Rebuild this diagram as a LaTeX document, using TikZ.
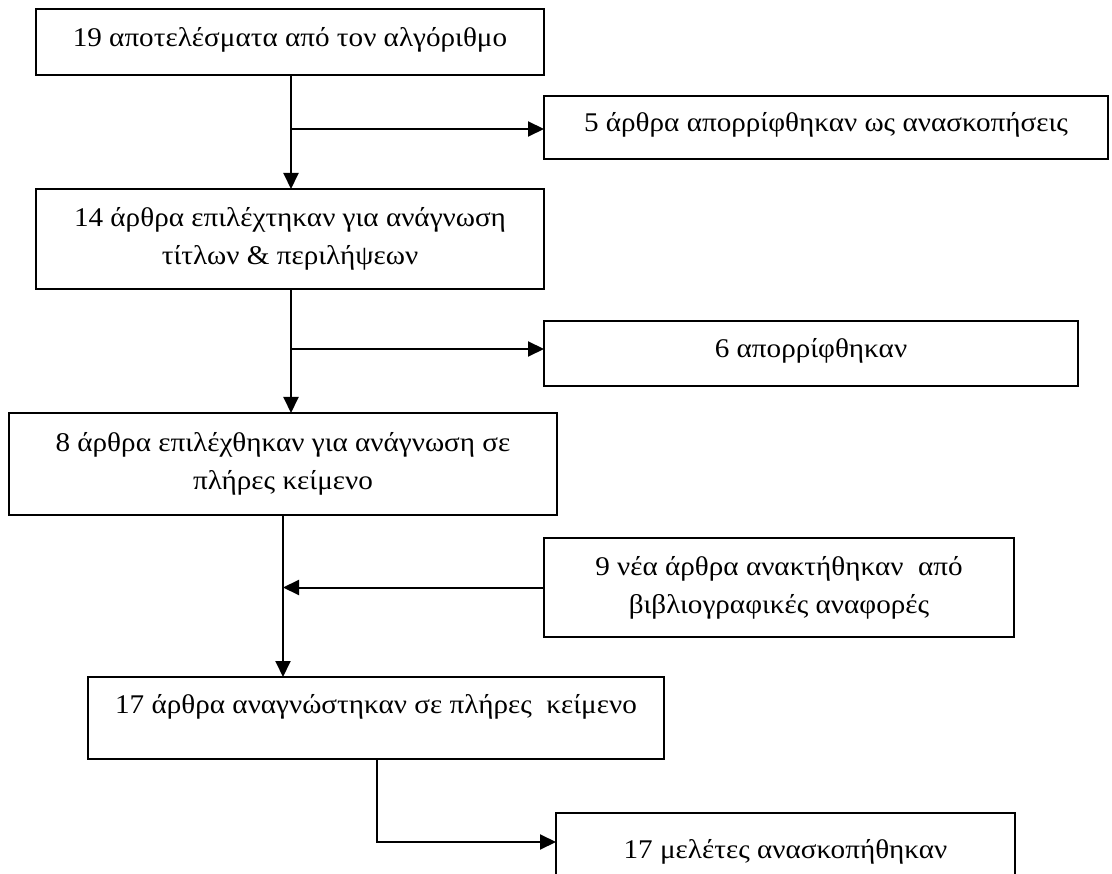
\documentclass[tikz,border=0pt]{standalone}
\usepackage{fontspec}
\setmainfont{Liberation Serif}[FakeStretch=1.08]
\usetikzlibrary{arrows.meta}
\begin{document}
\begin{tikzpicture}[x=1pt,y=-1pt,
  box/.style={draw=black,line width=1.8pt,anchor=north west,inner sep=0pt,outer sep=0pt,
    font=\fontsize{27}{38}\selectfont,align=center},
  one/.style={text height=18pt,text depth=9pt},
  arr/.style={line width=2pt,-{Triangle[length=16pt,width=15pt]}}]
\useasboundingbox (0,0) rectangle (1112,874);
\node[box,one,minimum width=508pt,minimum height=66pt] (b1) at (36,9) {19 αποτελέσματα από τον αλγόριθμο};
\node[box,one,minimum width=564pt,minimum height=63pt] (b2) at (544,96) {5 άρθρα απορρίφθηκαν ως ανασκοπήσεις};
\node[box,minimum width=508pt,minimum height=100pt] (b3) at (36,189) {14 άρθρα επιλέχτηκαν για ανάγνωση\\τίτλων \& περιλήψεων};
\node[box,one,minimum width=534pt,minimum height=65pt] (b4) at (544,321) {6 απορρίφθηκαν};
\node[box,minimum width=548pt,minimum height=102pt] (b5) at (9,413) {8 άρθρα επιλέχθηκαν για ανάγνωση σε\\πλήρες κείμενο};
\node[box,minimum width=470pt,minimum height=99pt] (b6) at (544,538) {9 νέα άρθρα ανακτήθηκαν~ από\\βιβλιογραφικές αναφορές};
\node[box,text height=15pt,text depth=25pt,minimum width=576pt,minimum height=82pt] (b7) at (88,677) {17 άρθρα αναγνώστηκαν σε πλήρες~ κείμενο};
\node[box,one,minimum width=459pt,minimum height=81pt] (b8) at (556,813) {17 μελέτες ανασκοπήθηκαν};
% connectors
\coordinate (s1) at (291,0);
\coordinate (s3) at (283,0);
\coordinate (s4) at (377,0);
\coordinate (j1) at (291,129);
\coordinate (j2) at (291,349);
\coordinate (j4) at (377,842);
\draw[arr] (b1.south -| s1) -- (b3.north -| s1);
\draw[arr] (j1) -- (j1 -| b2.west);
\draw[arr] (b3.south -| s1) -- (b5.north -| s1);
\draw[arr] (j2) -- (j2 -| b4.west);
\draw[arr] (b5.south -| s3) -- (b7.north -| s3);
\draw[arr] (b6.west) -- (b6.west -| s3);
\draw[arr] (b7.south -| s4) -- (j4) -- (j4 -| b8.west);
\end{tikzpicture}
\end{document}
